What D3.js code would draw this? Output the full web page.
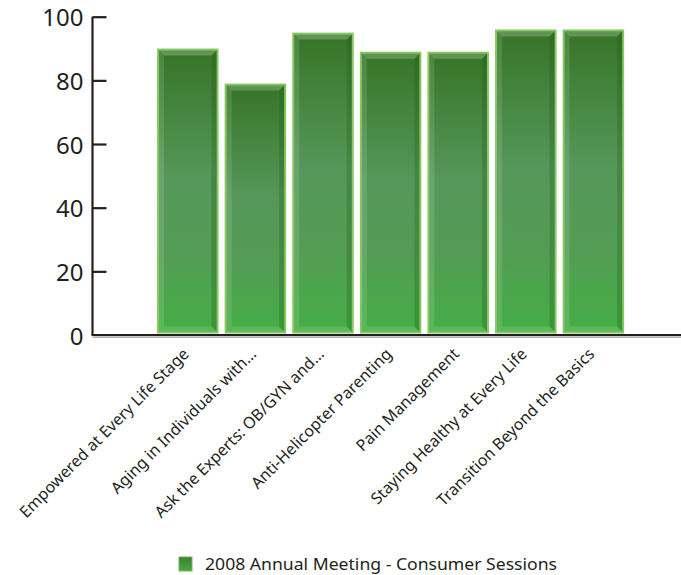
<!DOCTYPE html>
<html>
<head>
<meta charset="utf-8">
<script src="https://cdn.jsdelivr.net/npm/d3@7"></script>
<style>
  html, body { margin: 0; padding: 0; background: #fff; }
  svg { display: block; }
</style>
</head>
<body>
<svg id="chart" width="681" height="575"></svg>
<script>
const categories = [
  "Empowered at Every Life Stage",
  "Aging in Individuals with...",
  "Ask the Experts: OB/GYN and...",
  "Anti-Helicopter Parenting",
  "Pain Management",
  "Staying Healthy at Every Life",
  "Transition Beyond the Basics"
];
const values = [90, 79, 95, 89, 89, 96, 96];
const yTicks = [0, 20, 40, 60, 80, 100];
const seriesName = "2008 Annual Meeting - Consumer Sessions";

const svg = d3.select("#chart");
const axisX = 92.5, y0px = 335, y100px = 16.7, rightEdge = 681;

const x = d3.scaleBand().domain(categories).range([154, 627.2]).paddingInner(0.09).paddingOuter(0.045);
const y = d3.scaleLinear().domain([0, 100]).range([y0px, y100px]);

const defs = svg.append("defs");
const g = defs.append("linearGradient").attr("id", "barGrad").attr("x1", 0).attr("y1", 0).attr("x2", 0).attr("y2", 1);
g.append("stop").attr("offset", "0%").attr("stop-color", "#367527");
g.append("stop").attr("offset", "45%").attr("stop-color", "#56975a");
g.append("stop").attr("offset", "72%").attr("stop-color", "#549c55");
g.append("stop").attr("offset", "100%").attr("stop-color", "#44ae44");
const lg = defs.append("linearGradient").attr("id", "legGrad").attr("x1", 0).attr("y1", 0).attr("x2", 0).attr("y2", 1);
lg.append("stop").attr("offset", "0%").attr("stop-color", "#3c7d30");
lg.append("stop").attr("offset", "100%").attr("stop-color", "#4aa84a");

// bars
const bars = svg.append("g").selectAll("g").data(categories).join("g");
const border = 2, bev = 5;
bars.each(function(c, i) {
  const gg = d3.select(this);
  const x0 = x(c), w = x.bandwidth(), top = y(values[i]), bot = y(0) - 1.5;
  const h = bot - top;
  gg.append("rect").attr("x", x0).attr("y", top).attr("width", w).attr("height", h).attr("fill", "#88c862");
  const ix0 = x0 + border, iy0 = top + border, ix1 = x0 + w - border, iy1 = bot - border;
  gg.append("rect").attr("x", ix0).attr("y", iy0).attr("width", ix1 - ix0).attr("height", iy1 - iy0).attr("fill", "url(#barGrad)");
  const pts = a => a.map(p => p.join(",")).join(" ");
  gg.append("polygon").attr("points", pts([[ix0, iy0], [ix1, iy0], [ix1 - bev, iy0 + bev], [ix0 + bev, iy0 + bev]]))
    .attr("fill", "#ffffff").attr("fill-opacity", 0.22);
  gg.append("polygon").attr("points", pts([[ix0, iy0], [ix0 + bev, iy0 + bev], [ix0 + bev, iy1 - bev], [ix0, iy1]]))
    .attr("fill", "#ffffff").attr("fill-opacity", 0.12);
  gg.append("polygon").attr("points", pts([[ix1, iy0], [ix1 - bev, iy0 + bev], [ix1 - bev, iy1 - bev], [ix1, iy1]]))
    .attr("fill", "#1d5a14").attr("fill-opacity", 0.28);
  gg.append("polygon").attr("points", pts([[ix0, iy1], [ix0 + bev, iy1 - bev], [ix1 - bev, iy1 - bev], [ix1, iy1]]))
    .attr("fill", "#ffffff").attr("fill-opacity", 0.12);
});

// x axis line with shadow
svg.append("line").attr("x1", axisX).attr("x2", rightEdge).attr("y1", y(0) + 2.2).attr("y2", y(0) + 2.2)
  .attr("stroke", "#9a9a9a").attr("stroke-width", 1.2);
svg.append("line").attr("x1", axisX - 1).attr("x2", rightEdge).attr("y1", y(0)).attr("y2", y(0))
  .attr("stroke", "#231f20").attr("stroke-width", 2.2);

// y axis
const yAxis = d3.axisRight(y).tickValues(yTicks).tickSize(14).tickFormat(d3.format("d"));
const ya = svg.append("g").attr("transform", `translate(${axisX},0)`).call(yAxis);
ya.select(".domain").attr("stroke", "#231f20").attr("stroke-width", 2.2).attr("d", `M0,${y100px}V${y0px}`);
ya.selectAll(".tick line").attr("stroke", "#231f20").attr("stroke-width", 2.2);
ya.selectAll(".tick").filter(d => d === 0).select("line").remove();
ya.selectAll(".tick text")
  .attr("x", -9).attr("dy", "0.38em").attr("text-anchor", "end")
  .attr("fill", "#231f20").attr("font-family", "Noto Sans").attr("font-size", 24);

// category labels
svg.append("g").selectAll("text").data(categories).join("text")
  .attr("transform", c => `translate(${x(c) + x.bandwidth() / 2 + 2},${y(0) + 20}) rotate(-45)`)
  .attr("text-anchor", "end")
  .attr("fill", "#231f20").attr("font-family", "Noto Sans").attr("font-size", 16)
  .text(c => c);

// legend
const leg = svg.append("g");
leg.append("rect").attr("x", 179).attr("y", 557).attr("width", 13).attr("height", 14)
  .attr("fill", "url(#legGrad)").attr("stroke", "#6fb552").attr("stroke-width", 1);
leg.append("text").attr("x", 205).attr("y", 570)
  .attr("fill", "#231f20").attr("font-family", "Noto Sans").attr("font-size", 17)
  .attr("textLength", 352).attr("lengthAdjust", "spacingAndGlyphs")
  .text(seriesName);
</script>
</body>
</html>
